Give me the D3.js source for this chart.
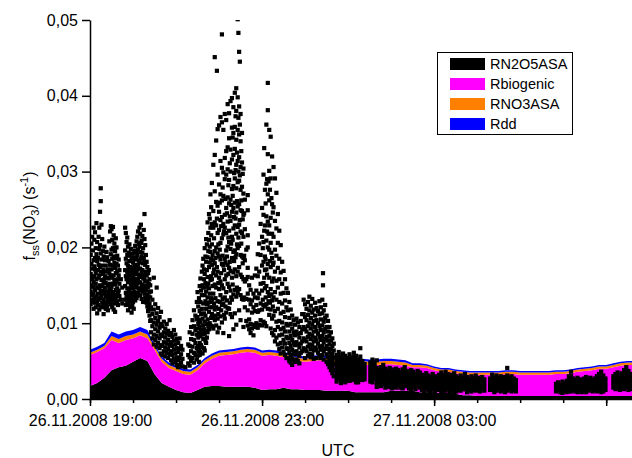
<!DOCTYPE html>
<html>
<head>
<meta charset="utf-8">
<script src="https://cdn.jsdelivr.net/npm/d3@7"></script>
<style>
  body { margin: 0; background: #fff; }
  svg { display: block; }
  text { font-family: Arial, "Liberation Sans", sans-serif; }
</style>
</head>
<body>
<svg id="chart" width="632" height="458"></svg>
<script>
// Modelled loss-rate contributions, 10-minute steps (UTC, 26/27.11.2008)
const stackTimes = ["19:00","19:10","19:20","19:30","19:40","19:50","20:00","20:10","20:20","20:30",
  "20:40","20:50","21:00","21:10","21:20","21:30","21:40","21:50","22:00","22:10",
  "22:20","22:30","22:40","22:50","23:00","23:10","23:20","23:30","23:40","23:50",
  "00:00","00:10","00:20","00:30","00:40","00:50","01:00","01:10","01:20","01:30",
  "01:40","01:50","02:00","02:10","02:20","02:30","02:40","02:50","03:00","03:10",
  "03:20","03:30","03:40","03:50","04:00","04:10","04:20","04:30","04:40","04:50",
  "05:00","05:10","05:20","05:30","05:40","05:50","06:00","06:10","06:20","06:30",
  "06:40","06:50","07:00","07:10","07:20","07:30","07:36"];

const rn2o5asa = [.0017,.0021,.0028,.0038,.0042,.0044,.0049,.0054,.0050,.0033,
  .0021,.0016,.0012,.0009,.0008,.0012,.0016,.0017,.0017,.0016,
  .0016,.0016,.0016,.0015,.0012,.0013,.0013,.0015,.0013,.0013,
  .0012,.0012,.0012,.0011,.0011,.0011,.0011,.0009,.0009,.0009,
  .0009,.0009,.0011,.0011,.0011,.0011,.0009,.0009,.0009,.0008,
  .0008,.0007,.0005,.0005,.0004,.0004,.0004,.0004,.0004,.0004,
  .0004,.0004,.0004,.0004,.0004,.0004,.0004,.0004,.0004,.0004,
  .0004,.0004,.0004,.0004,.0004,.0004,.0004];

const rbiogenic = [.0041,.0041,.0039,.0040,.0032,.0034,.0031,.0030,.0030,.0032,
  .0028,.0025,.0025,.0024,.0024,.0026,.0031,.0036,.0040,.0042,
  .0043,.0045,.0046,.0046,.0045,.0045,.0044,.0040,.0040,.0037,
  .0037,.0038,.0039,.0039,.0038,.0036,.0036,.0037,.0037,.0036,
  .0036,.0037,.0035,.0034,.0033,.0031,.0033,.0032,.0029,.0028,
  .0028,.0027,.0028,.0027,.0028,.0028,.0028,.0028,.0029,.0029,
  .0028,.0028,.0028,.0028,.0028,.0029,.0029,.0030,.0032,.0033,
  .0034,.0036,.0036,.0038,.0040,.0041,.0041];

const rno3asa = [.0003,.0003,.0003,.0005,.0005,.0005,.0005,.0005,.0005,.0004,
  .0004,.0004,.0004,.0004,.0004,.0004,.0004,.0004,.0004,.0004,
  .0004,.0004,.0004,.0004,.0004,.0004,.0004,.0004,.0004,.0004,
  .0004,.0004,.0004,.0004,.0004,.0004,.0004,.0004,.0004,.0004,
  .0004,.0004,.0004,.0004,.0004,.0003,.0003,.0003,.0003,.0003,
  .0003,.0003,.0003,.0003,.0003,.0003,.0003,.0003,.0003,.0003,
  .0003,.0003,.0003,.0003,.0003,.0003,.0003,.0003,.0003,.0003,
  .0003,.0003,.0003,.0003,.0003,.0003,.0003];

const rdd = [.0004,.0004,.0004,.0006,.0006,.0006,.0006,.0006,.0006,.0003,
  .0003,.0003,.0003,.0003,.0003,.0003,.0003,.0003,.0003,.0003,
  .0003,.0003,.0003,.0003,.0003,.0003,.0003,.0003,.0003,.0003,
  .0003,.0003,.0003,.0003,.0003,.0003,.0003,.0003,.0003,.0003,
  .0003,.0003,.0003,.0003,.0003,.0002,.0002,.0002,.0002,.0002,
  .0002,.0002,.0002,.0002,.0002,.0002,.0002,.0002,.0002,.0002,
  .0002,.0002,.0002,.0002,.0002,.0002,.0002,.0002,.0002,.0002,
  .0002,.0002,.0002,.0002,.0002,.0002,.0002];

const seriesNames = ["RN2O5ASA", "Rbiogenic", "RNO3ASA", "Rdd"];
const seriesColors = ["#000000", "#ff00ff", "#ff8000", "#0000ff"];

const yTicks = [0, 0.01, 0.02, 0.03, 0.04, 0.05];
const xMajorTicks = ["19:00", "23:00", "03:00", "07:00"];
const xLabelledTicks = ["19:00", "23:00", "03:00"];

// Measured f_ss(NO3): [minutes after 19:00 UTC, values in 1e-4 s^-1]
const measured = [
  [1,[190,165,142,125]],[2,[205,178,150,131]],[3,[172,158,137,214]],[4,[196,161,128,148]],
  [5,[226,183,154,139,119]],[6,[210,175,162,133]],[7,[220,186,171,144,127]],[8,[199,166,152,121]],
  [9,[232,191,158,135]],[10,[207,182,147,129,113]],[11,[186,170,139,124]],[12,[214,177,160,131]],
  [13,[226,198,163,146,118]],[14,[247,203,174,150,133]],[15,[278,261,192,168,141,122]],[16,[230,184,157,136]],
  [17,[211,176,149,127]],[18,[195,165,143,121]],[19,[188,170,154,131,112]],[20,[201,158,139,125]],
  [21,[183,162,147,128]],[22,[176,153,135,119]],[23,[194,168,142,126]],[24,[187,160,137,122]],
  [25,[171,150,133,117]],[26,[182,159,141,128]],[27,[208,166,146,131]],[28,[221,177,152,136]],
  [29,[228,191,163,143,125]],[30,[224,197,171,148,130]],[31,[210,185,160,139,121]],[32,[227,199,176,152,134]],
  [33,[216,188,163,141,118]],[34,[205,180,157,137,126]],[35,[195,173,151,132,115]],[36,[212,186,166,144,127]],
  [37,[200,178,155,135]],[38,[189,168,146,129]],[39,[176,158,140,124]],[40,[184,163,143]],
  [41,[170,152,136]],[43,[158,131]],[45,[147,126]],
  [49,[226,196,170,149,131]],[50,[219,185,162,140,124]],[51,[207,179,158,136]],[52,[213,190,167,146,128]],
  [53,[201,176,154,133,117]],[54,[193,171,160,142,125]],[55,[204,182,163,145,129]],[56,[189,174,156,138,121]],
  [57,[198,168,151,134]],[58,[185,166,149,131,114]],[59,[192,173,157,140,123]],[60,[180,162,146,128]],
  [61,[187,170,152,135,119]],[62,[196,177,159,141]],[63,[202,184,165,147,130]],[64,[193,174,156,138]],
  [65,[208,186,168,150,133]],[66,[214,190,171,153,136]],[67,[221,197,177,158,140]],[68,[205,183,164,146]],
  [69,[226,201,180,161,143]],[70,[218,194,172,154,137]],[71,[230,206,185,163,145]],[72,[209,188,167,149,132]],
  [73,[215,193,170,151]],[74,[199,179,160,142,128]],[75,[223,186,164,146]],[76,[244,211,181,158,139]],
  [77,[203,177,155,134]],[78,[190,168,149,130]],[79,[181,163,144,127]],[80,[174,155,138,122]],
  [81,[166,148,131,116]],[82,[170,152,135,119]],[83,[158,141,126,110]],[84,[150,134,118,103]],
  [85,[142,121,104,88]],[87,[131,112,96,80]],[89,[160,118,101,85,72]],[91,[125,107,92,78]],
  [93,[147,113,98,83,69]],[95,[120,103,89,74]],[97,[108,94,80,67]],[99,[115,99,85,71,60]],
  [101,[96,83,70,58]],[103,[102,88,75,63]],[105,[93,81,68,56]],[107,[99,86,73,61]],
  [109,[90,78,66,54]],[111,[104,84,71,59]],[113,[87,75,63,51]],[115,[82,70,58,47]],
  [117,[91,77,65,53]],[119,[85,72,60,49]],[121,[79,67,55,45]],[123,[74,62,51,42]],
  [125,[80,66,54,44]],[127,[70,59,48]],[129,[65,53,43]],[133,[42]],
  [137,[72,58,47]],[139,[88,70,55,44]],[141,[95,79,63,50]],[143,[104,86,69,54]],
  [145,[117,96,78,61,48]],[147,[110,91,74,58]],[149,[128,105,85,67,52]],
  [150,[141,108,93,70,57]],[151,[122,99,81,63]],[152,[133,104,87,66,49]],[153,[149,116,95,74,58]],
  [154,[159,128,101,83,62]],[155,[143,112,90,71]],[156,[168,137,119,91,68]],[157,[176,150,106,85,60]],
  [158,[185,147,126,97,79]],[159,[171,158,113,92,67]],[160,[199,165,137,102,86,64]],
  [161,[188,153,129,110,77]],[162,[211,181,142,119,90,74]],[163,[204,170,148,125,99,81]],
  [164,[233,187,161,134,105,88]],[165,[219,195,152,127,96]],[166,[244,210,174,146,115,92]],
  [167,[238,201,180,139,121,100]],[168,[270,226,194,157,128,97]],[169,[253,216,185,162,133,107]],
  [170,[285,231,204,177,158,131,112,96]],[171,[190,149,121]],
  [172,[309,248,226,183,166,139,108,93]],[173,[212,171,126]],
  [174,[451,322,274,233,195,179,151,118,104]],[175,[186,133,110]],
  [176,[341,260,229,200,163,147,121,97]],[177,[433,238,174]],
  [178,[356,296,255,219,192,168,129,106,88]],[179,[204,153,112]],
  [180,[361,283,247,223,188,160,145,119,94]],[181,[259,197,128]],
  [182,[372,314,270,236,206,184,155,137,109]],[183,[228,166,117]],
  [184,[481,365,305,262,240,212,178,150,124,101]],[185,[279,189,132]],
  [186,[355,299,268,231,217,176,146,126,87]],[187,[221,170,111]],
  [188,[376,318,290,243,226,185,158,134,106]],[189,[264,180,122]],
  [190,[368,327,296,252,219,196,163,141,114]],[191,[245,188,130]],
  [192,[389,332,303,266,234,201,177,152,120]],[193,[282,213,165]],
  [194,[377,344,289,258,222,207,173,148,119,83]],[195,[311,241,181,127]],
  [196,[393,329,300,263,235,198,169,143,112]],[197,[256,205,134]],
  [198,[397,358,316,277,247,214,186,160,131,108]],[199,[345,268,210,151]],
  [200,[385,351,322,281,252,225,194,167,138,92]],[201,[298,240,182]],
  [202,[404,359,330,291,259,229,196,171,144,113]],[203,[373,302,238,187]],
  [204,[410,380,342,309,278,246,218,191,162,135,98]],[205,[325,261,204,147]],
  [206,[501,398,355,314,286,254,227,199,168,140]],[207,[483,371,300,213]],
  [208,[458,386,349,319,288,257,230,202,174,145,117]],[209,[445,362,295,236]],
  [210,[376,340,306,276,249,221,190,164,137,104]],[211,[327,262,205]],
  [212,[351,312,280,248,219,188,161,132]],[213,[297,237,179]],
  [214,[304,271,243,214,186,158,131,95]],[215,[245,189,134]],
  [216,[263,224,183,155,121]],[218,[197,158,132,103]],
  [220,[269,249,216,200,173,161,139,117,97]],[222,[150,131,105,92]],[224,[144,125,99,87]],
  [226,[160,130,114,93]],[228,[139,121,98,84]],[230,[163,134,116,95]],[232,[172,143,124,100]],
  [234,[191,162,133,115,94]],
  [236,[205,168,139,117,98]],[238,[231,190,152,126,104]],[240,[252,214,176,143,118,97]],
  [241,[199,131]],[242,[296,243,207,181,153,124,102]],[243,[331,222,160]],
  [244,[276,229,188,170,146,122,100]],[245,[258,184,134]],
  [246,[362,284,241,209,171,149,125,96]],[247,[290,221,164]],
  [248,[417,381,323,270,234,200,178,141,119]],[249,[287,218,129]],
  [250,[355,301,262,229,197,160,136,111]],[251,[276,182,127]],
  [252,[346,291,239,206,174,145,118,93]],[253,[265,193,138]],
  [254,[320,257,218,186,155,130,106,87]],[255,[246,177,122]],
  [256,[306,253,214,180,159,134,110,84]],[258,[291,235,197,168,141,116,91,76]],
  [260,[272,225,189,156,131,102,81]],[262,[244,206,173,147,119,95,72]],
  [264,[222,185,158,128,103,84,66]],[266,[203,167,139,113,92,74,60]],
  [268,[181,152,126,101,85,68]],[270,[169,140,115,94,78,62]],
  [272,[158,130,108,89,73,58]],[274,[146,121,99,82,67,54]],
  [276,[140,117,97,80,66,54]],[278,[128,107,89,74,61,50]],[280,[118,99,83,70,58,48]],
  [282,[110,93,78,65,53,45]],[284,[104,88,74,62,51]],[286,[98,84,71,59,49]],
  [288,[106,89,75,63,52]],[290,[101,86,72,60,50]],[292,[95,81,68,57,47]],
  [294,[103,87,73,61]],[296,[112,92,76,63]],
  [298,[131,112,95,80,67]],[300,[125,108,92,78,65,54]],[302,[119,104,89,76,63]],
  [304,[128,111,96,82,69,57]],[306,[135,117,101,86,72,60]],[308,[123,107,93,79,66,55]],
  [310,[132,114,98,84,71,59]],[312,[118,103,89,76,64,53]],[314,[127,110,95,81,68]],
  [316,[120,104,90,77,65,54]],[318,[116,100,86,73,61]],[320,[129,112,96,82,69,57]],
  [322,[121,105,91,78,65,54]],[324,[131,113,97,83,70,58]],[325,[166,150]],
  [326,[117,102,88,75,63,52]],[328,[124,107,92,79,66]],[330,[110,95,82,70,59,49]],
  [332,[103,89,77,66,55,46]],[334,[95,83,72,61,51,42]],[336,[88,77,66,56,47,38]],
  [338,[80,70,60,51,42,34]],[340,[73,64,55,46,38,30]],
  [344,[58,53,48,43,38,33,28,23]],[347,[62,57,52,47,42,37,32,27]],[350,[56,51,46,41,36,31,26,21]],
  [353,[60,55,50,45,40,35,30,25]],[356,[57,52,47,42,37,32,27,22]],[359,[54,49,44,39,34,29,24]],
  [362,[59,54,49,44,39,34,29,24]],[365,[55,50,45,40,35,30,25]],[368,[61,56,51,46,41,36,31,26]],
  [371,[57,52,47,42,37,32,27,22]],[374,[52,47,42,37,32,27,22]],[377,[67,56,51,46,41,36,31,26]],
  [380,[50,45,40,35,30,25]],[383,[46,41,36,31,26]],
  [391,[48,43,38,33,28,23]],[394,[52,47,42,37,32,27,22]],[397,[47,42,37,32,27]],
  [400,[51,41,36,31,26,21,16]],[403,[38,33,28,23,18]],[406,[42,37,32,27,22,17]],
  [409,[45,40,35,30,25,20]],[412,[40,35,30,25,20,15]],[415,[37,32,27,22,17]],
  [418,[41,36,31,26,21,16]],[421,[39,34,29,24,19,14]],[424,[36,31,26,21,16]],
  [427,[40,35,30,25,20,15]],[430,[38,33,28,23,18]],[433,[35,30,25,20,15]],
  [436,[39,34,29,24,19,14]],[439,[42,37,32,27,22,17]],[442,[37,32,27,22,17]],
  [445,[34,29,24,19,14]],[448,[38,33,28,23,18,13]],[451,[36,31,26,21,16]],
  [454,[33,28,23,18,13]],[457,[37,32,27,22,17]],[460,[35,30,25,20,15]],
  [463,[32,27,22,17,12]],[466,[30,25,20,15,10]],[469,[34,29,24,19,14]],
  [472,[31,26,21,16,11]],[475,[29,24,19,14,9]],[478,[33,28,23,18,13]],
  [481,[30,25,20,15,10]],[484,[28,23,18,13]],[487,[32,27,22,17,12]],
  [490,[35,30,25,20,15,10]],[493,[31,26,21,16,11]],[496,[36,31,26,21,16,11]],
  [499,[33,28,23,18,13]],[502,[29,24,19,14,9]],[505,[32,27,22,17,12]],
  [508,[34,29,24,19,14,9]],[511,[30,25,20,15,10]],[514,[27,22,17,12]],
  [517,[31,26,21,16,11]],[520,[28,23,18,13]],[523,[33,28,23,18,13]],
  [526,[29,24,19,14,9]],[529,[26,21,16,11]],[532,[30,25,20,15,10]],
  [535,[27,22,17,12]],[538,[31,26,21,16,11]],[541,[28,23,18,13]],
  [544,[25,20,15,10]],[547,[29,24,19,14]],[550,[26,21,16,11]],
  [558,[27,22,17,12]],[561,[32,27,22,17,12]],[564,[29,24,19,14,9]],
  [567,[31,26,21,16,11]],[570,[28,23,18,13]],[573,[30,25,20,15,10]],
  [576,[27,22,17,12]],[579,[29,24,19,14,9]],[582,[41,31,26,21,16,11]],
  [585,[28,23,18,13]],[588,[30,25,20,15,10]],[591,[27,22,17,12]],[594,[25,20,15,10]],
  [650,[20,15,10]],[653,[22,17,12]],[656,[19,14,9]],[659,[23,18,13,8]],[662,[21,16,11]],
  [665,[24,19,14,9]],[668,[30,25,20,15,10]],[671,[36,30,25,20,15,10]],[674,[27,22,17,12]],
  [677,[25,20,15,10]],[680,[28,23,18,13,9]],[683,[26,21,16,11]],[686,[24,19,14,9]],
  [689,[27,22,17,12]],[692,[29,24,19,14,9]],[695,[26,21,16,11]],[698,[28,23,18,13]],
  [701,[25,20,15,10]],[704,[27,22,17,12]],[707,[30,25,20,15,10]],[710,[33,27,22,17,12]],
  [713,[36,30,24,19,14,9]],[716,[31,25,20,15,10]],[719,[27,22,17,12]],
  [730,[30,25,20,15]],[733,[33,28,23,18,13]],[736,[35,30,25,20,15]],[739,[31,26,21,16,12]],
  [742,[34,29,24,19,14]],[745,[38,33,28,23,18,13]],[748,[42,36,31,26,21,16]],
  [751,[37,32,27,22,17,12]],[754,[33,28,23,18,13]]
];

// ---- helpers ----
const parseClock = s => {
  const [h, m] = s.split(":").map(Number);
  return new Date(Date.UTC(2008, 10, h >= 12 ? 26 : 27, h, m));
};
const start = parseClock("19:00");

const svg = d3.select("#chart");
const margin = { left: 90, right: 632, top: 20, bottom: 399 };

const x = d3.scaleUtc()
  .domain([start, parseClock("07:36")])
  .range([margin.left, margin.right]);
const y = d3.scaleLinear()
  .domain([0, 0.05])
  .range([margin.bottom, margin.top]);

svg.append("defs").append("clipPath").attr("id", "plot-clip")
  .append("rect")
  .attr("x", margin.left).attr("y", margin.top)
  .attr("width", margin.right - margin.left)
  .attr("height", margin.bottom - margin.top);

const plot = svg.append("g").attr("clip-path", "url(#plot-clip)");

// ---- stacked contributions ----
const rows = stackTimes.map((t, i) => ({
  date: parseClock(t),
  RN2O5ASA: rn2o5asa[i],
  Rbiogenic: rbiogenic[i],
  RNO3ASA: rno3asa[i],
  Rdd: rdd[i]
}));
const layers = d3.stack().keys(seriesNames)(rows);
const area = d3.area()
  .x(d => x(d.data.date))
  .y0(d => y(d[0]))
  .y1(d => y(d[1]));

plot.selectAll("path.layer")
  .data(layers)
  .join("path")
  .attr("class", "layer")
  .attr("d", area)
  .attr("fill", (d, i) => seriesColors[i]);

// ---- measured points ----
const points = measured.flatMap(([minutes, values]) =>
  values.map(v => ({ date: new Date(start.getTime() + minutes * 60000), value: v * 1e-4 })));
const half = 2.1;
plot.selectAll("rect.obs")
  .data(points)
  .join("rect")
  .attr("class", "obs")
  .attr("x", d => x(d.date) - half)
  .attr("y", d => y(d.value) - half)
  .attr("width", half * 2)
  .attr("height", half * 2)
  .attr("fill", "#000");

// ---- axes ----
const fmtY = d => d3.format(".2f")(d).replace(".", ",");
const yAxis = svg.append("g")
  .attr("transform", `translate(${margin.left},0)`)
  .call(d3.axisLeft(y).tickValues(yTicks).tickFormat(fmtY)
    .tickSize(8).tickSizeOuter(0).tickPadding(4));

const hourTicks = d3.utcHour.range(start, parseClock("07:36"));
const minorAxis = svg.append("g")
  .attr("transform", `translate(0,${margin.bottom})`)
  .call(d3.axisBottom(x).tickValues(hourTicks).tickFormat("")
    .tickSize(4).tickSizeOuter(0));
minorAxis.select(".domain").remove();

const labelled = new Set(xLabelledTicks.map(t => parseClock(t).getTime()));
const fmtX = d3.utcFormat("%d.%m.%Y %H:%M");
const xAxis = svg.append("g")
  .attr("transform", `translate(0,${margin.bottom})`)
  .call(d3.axisBottom(x).tickValues(xMajorTicks.map(parseClock))
    .tickFormat(d => labelled.has(d.getTime()) ? fmtX(d) : "")
    .tickSize(7).tickSizeOuter(0).tickPadding(9));

[yAxis, xAxis, minorAxis].forEach(g => {
  g.attr("font-family", "Arial, 'Liberation Sans', sans-serif").attr("font-size", 16);
  g.selectAll("line").attr("stroke", "#000").attr("stroke-width", 1.5);
  g.selectAll(".domain").attr("stroke", "#000").attr("stroke-width", 1.5);
  g.selectAll("text").attr("fill", "#000");
});

// ---- axis titles ----
svg.append("text")
  .attr("x", 338).attr("y", 456)
  .attr("text-anchor", "middle")
  .attr("font-size", 16)
  .text("UTC");

const yTitle = svg.append("text")
  .attr("transform", "translate(35,216) rotate(-90)")
  .attr("text-anchor", "middle")
  .attr("font-size", 16);
yTitle.append("tspan").text("f");
yTitle.append("tspan").attr("font-size", 11).attr("dy", 4).text("ss");
yTitle.append("tspan").attr("dy", -4).text("(NO");
yTitle.append("tspan").attr("font-size", 11).attr("dy", 4).text("3");
yTitle.append("tspan").attr("dy", -4).text(") (s");
yTitle.append("tspan").attr("font-size", 11).attr("dy", -7).text("-1");
yTitle.append("tspan").attr("dy", 7).text(")");

// ---- legend ----
const legend = svg.append("g");
legend.append("rect")
  .attr("x", 437.5).attr("y", 52.5)
  .attr("width", 135).attr("height", 82)
  .attr("fill", "#fff").attr("stroke", "#000").attr("stroke-width", 1);
seriesNames.forEach((name, i) => {
  legend.append("rect")
    .attr("x", 450).attr("y", 58 + i * 20)
    .attr("width", 35).attr("height", 12)
    .attr("fill", seriesColors[i]);
  legend.append("text")
    .attr("x", 490).attr("y", 69 + i * 20)
    .attr("font-size", 14.5)
    .text(name);
});
</script>
</body>
</html>
